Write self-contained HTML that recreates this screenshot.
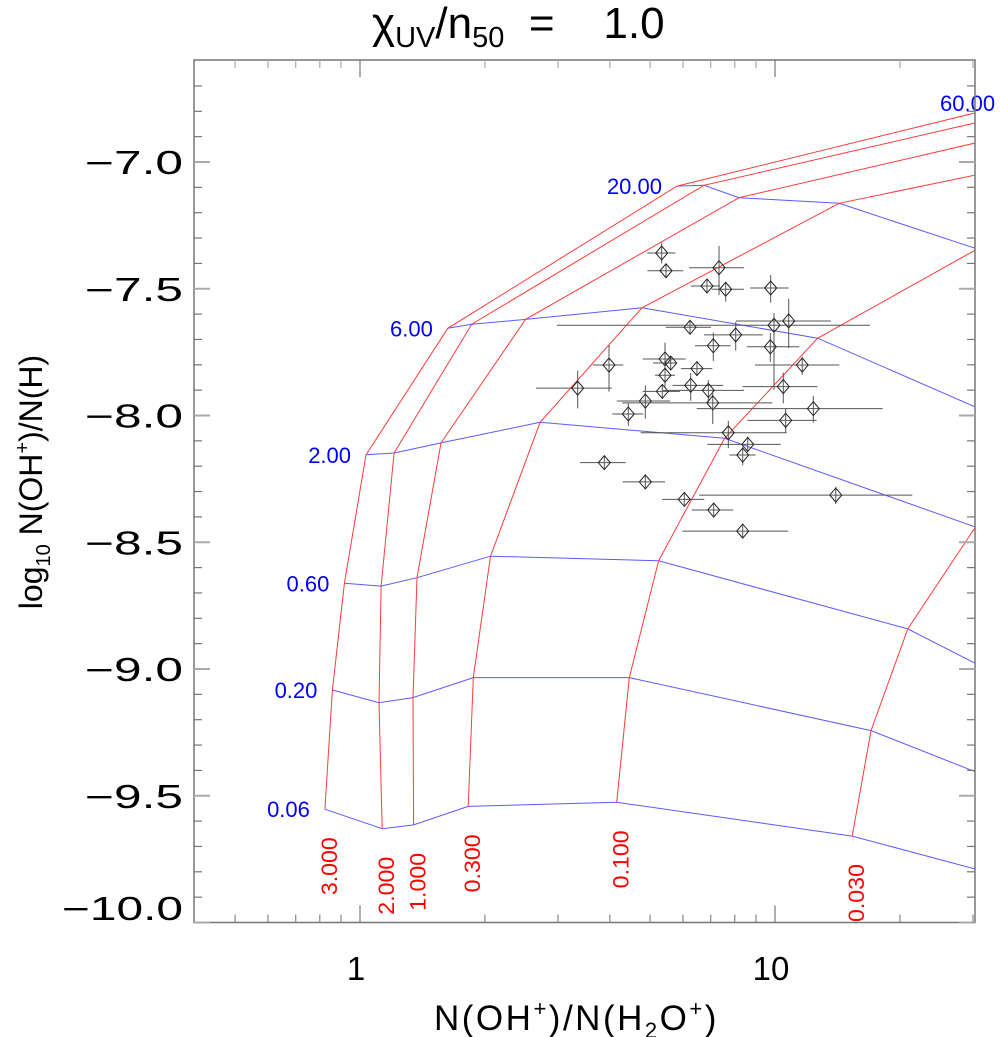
<!DOCTYPE html>
<html><head><meta charset="utf-8"><style>
html,body{margin:0;padding:0;background:#fff;}
svg{display:block;font-family:"Liberation Sans",sans-serif;}
.pre{white-space:pre;}
</style></head><body>
<svg id="chart" width="1001" height="1037" viewBox="0 0 1001 1037" xmlns="http://www.w3.org/2000/svg">
<defs><clipPath id="plotclip"><rect x="194" y="60" width="781" height="863"/></clipPath></defs>
<rect x="0" y="0" width="1001" height="1037" fill="#fff"/>
<text class="pre" x="372" y="38" font-size="44" fill="#000">χ<tspan font-size="29" dy="9">UV</tspan><tspan dy="-9">/n</tspan><tspan font-size="29" dy="9">50</tspan><tspan dy="-9">  =    1.0</tspan></text>
<g id="grid" clip-path="url(#plotclip)"></g>
<g id="points" clip-path="url(#plotclip)"></g>
<g id="labels"></g>
<g id="axes"></g>
<text x="434" y="1030" font-size="35" letter-spacing="2.5" fill="#000">N(OH<tspan font-size="22" dy="-14">+</tspan><tspan dy="14">)/N(H</tspan><tspan font-size="22" dy="8">2</tspan><tspan dy="-8">O</tspan><tspan font-size="22" dy="-14">+</tspan><tspan dy="14">)</tspan></text>
<text transform="translate(42,482) rotate(-90)" font-size="32" text-anchor="middle" fill="#000">log<tspan font-size="20" dy="8">10</tspan><tspan dy="-8"> N(OH</tspan><tspan font-size="20" dy="-13">+</tspan><tspan dy="13">)/N(H)</tspan></text>
</svg>
<script>
// model grid: rows = blue curves, columns = red curves
const rowVals = [0.06, 0.2, 0.6, 2, 6, 20, 60];
const rowLabels = ["0.06","0.20","0.60","2.00","6.00","20.00","60.00"];
const colVals = [3, 2, 1, 0.3, 0.1, 0.03, 0.01];
const colLabels = ["3.000","2.000","1.000","0.300","0.100","0.030",""];
const gridX = [
 [0.823,1.131,1.346,1.823,4.155,15.35,50],
 [0.858,1.111,1.342,1.875,4.456,17.03,50],
 [0.917,1.124,1.372,2.063,5.243,20.89,50],
 [1.034,1.208,1.567,2.716,7.56,30.4,50],
 [1.628,1.858,2.505,4.781,12.67,39.8,80],
 [5.806,6.745,8.19,14.27,30.7,45,80],
 [50,50,50,50,60,80,100]
];
const gridY = [
 [-9.553,-9.630,-9.615,-9.542,-9.526,-9.659,-9.884],
 [-9.083,-9.133,-9.113,-9.034,-9.034,-9.243,-9.545],
 [-8.662,-8.673,-8.640,-8.555,-8.573,-8.842,-9.159],
 [-8.155,-8.148,-8.108,-8.027,-8.090,-8.440,-8.563],
 [-7.656,-7.640,-7.621,-7.575,-7.695,-8.05,-8.3],
 [-7.095,-7.092,-7.141,-7.163,-7.343,-7.434,-7.6],
 [-6.719,-6.764,-6.843,-6.978,-7.2,-7.35,-7.5]
];
// observations
const obsX   = [5.333,5.462,7.330,6.857,7.606,9.763,6.240,9.945,10.79,8.041,7.101,9.743,3.981,5.432,5.607,6.486,11.63,3.346,5.432,6.265,5.350,6.908,10.47,4.870,7.079,12.37,4.431,10.61,7.718,8.596,8.360,3.879,4.870,6.045,14.01,7.117,8.360];
const obsXlo = [4.924,4.924,6.216,6.265,7.039,8.706,5.453,2.983,8.054,6.745,6.416,8.549,3.637,4.800,5.082,5.935,8.950,2.656,5.139,5.669,4.800,5.371,8.360,4.155,4.285,6.476,4.055,8.578,4.747,6.870,7.761,3.389,4.295,5.350,6.570,6.300,5.979];
const obsXhi = [5.751,6.012,8.420,7.370,8.420,10.79,7.012,16.94,13.64,9.342,7.820,11.44,4.310,6.093,5.797,7.063,14.29,4.041,5.741,7.494,5.903,8.420,12.65,5.585,9.851,18.18,4.817,12.60,10.67,10.32,8.985,4.368,5.432,6.755,21.42,7.933,10.76];
const obsY   = [-7.359,-7.429,-7.417,-7.489,-7.502,-7.497,-7.652,-7.644,-7.627,-7.682,-7.725,-7.729,-7.801,-7.777,-7.793,-7.815,-7.801,-7.892,-7.841,-7.881,-7.905,-7.901,-7.886,-7.943,-7.950,-7.973,-7.994,-8.019,-8.068,-8.114,-8.156,-8.186,-8.262,-8.331,-8.314,-8.373,-8.456];
const obsYlo = [-7.400,-7.437,-7.525,-7.497,-7.551,-7.555,-7.660,-7.899,-7.734,-7.744,-7.785,-7.788,-7.906,-7.843,-7.801,-7.823,-7.840,-7.972,-7.886,-7.942,-7.935,-7.951,-7.952,-8.013,-8.034,-8.028,-8.041,-8.068,-8.129,-8.144,-8.196,-8.194,-8.270,-8.339,-8.349,-8.381,-8.464];
const obsYhi = [-7.318,-7.421,-7.331,-7.481,-7.485,-7.446,-7.644,-7.596,-7.540,-7.630,-7.673,-7.675,-7.722,-7.713,-7.785,-7.807,-7.768,-7.823,-7.801,-7.832,-7.880,-7.860,-7.831,-7.881,-7.899,-7.922,-7.951,-7.974,-8.021,-8.085,-8.123,-8.178,-8.254,-8.323,-8.281,-8.365,-8.448];
const yTicks = [-7.0,-7.5,-8.0,-8.5,-9.0,-9.5,-10.0];
const yTickLabels = ["\u22127.0","\u22127.5","\u22128.0","\u22128.5","\u22129.0","\u22129.5","\u221210.0"];
const xTicks = [1, 10];
const xTickLabels = ["1","10"];

const NS = "http://www.w3.org/2000/svg";
const X0 = 194, X1 = 975, Y0 = 60, Y1 = 922.5;
function xS(v){ return 360 + 415 * Math.log10(v); }
function yS(v){ return 162 + 253.5 * (-7 - v); }
function mk(tag, attrs, parent){
  const e = document.createElementNS(NS, tag);
  for (const k in attrs) e.setAttribute(k, attrs[k]);
  parent.appendChild(e);
  return e;
}
const grid = document.getElementById('grid');
const pts = document.getElementById('points');
const labs = document.getElementById('labels');
const axes = document.getElementById('axes');

for (let i = 0; i < rowVals.length; i++) {
  const d = gridX[i].map((x, j) => (j ? 'L' : 'M') + xS(x).toFixed(1) + ' ' + yS(gridY[i][j]).toFixed(1)).join(' ');
  const p = mk('path', {d: d, fill: 'none', stroke: '#5a5aff', 'stroke-width': 1}, grid);
  
  
}
for (let j = 0; j < colVals.length; j++) {
  const d = rowVals.map((r, i) => (i ? 'L' : 'M') + xS(gridX[i][j]).toFixed(1) + ' ' + yS(gridY[i][j]).toFixed(1)).join(' ');
  const p = mk('path', {d: d, fill: 'none', stroke: '#ff3b3b', 'stroke-width': 1}, grid);
  
  
}
for (let i = 0; i < rowVals.length; i++) {
  let tx = xS(gridX[i][0]) - 15, ty = yS(gridY[i][0]) + 8, anchor = 'end';
  if (xS(gridX[i][0]) > X1) { tx = 940; ty = 111; anchor = 'start'; }
  const t = mk('text', {x: tx, y: ty, 'font-size': 22, fill: '#0000ff', 'text-anchor': anchor}, labs);
  t.textContent = rowLabels[i];
  
  
}
for (let j = 0; j < colVals.length; j++) {
  if (!colLabels[j]) continue;
  const nx = xS(gridX[0][j]) + 5, ny = yS(gridY[0][j]) + 28;
  const t = mk('text', {x: 0, y: 0, 'font-size': 22, fill: '#ff0000', 'text-anchor': 'end', transform: 'translate(' + (nx + 7) + ',' + ny + ') rotate(-90)', textLength: 58, lengthAdjust: 'spacingAndGlyphs'}, labs);
  t.textContent = colLabels[j];
  
  
}
for (let k = 0; k < obsX.length; k++) {
  const g = mk('g', {}, pts);
  
  
  const cx = xS(obsX[k]), cy = yS(obsY[k]);
  mk('line', {x1: xS(obsXlo[k]), x2: xS(obsXhi[k]), y1: cy, y2: cy, stroke: '#555', 'stroke-width': 1}, g);
  mk('line', {x1: cx, x2: cx, y1: Math.min(yS(obsYhi[k]), cy - 7), y2: Math.max(yS(obsYlo[k]), cy + 7), stroke: '#555', 'stroke-width': 1}, g);
  mk('path', {d: 'M' + (cx - 6) + ' ' + cy + 'L' + cx + ' ' + (cy - 7) + 'L' + (cx + 6) + ' ' + cy + 'L' + cx + ' ' + (cy + 7) + 'Z', fill: 'none', stroke: '#222', 'stroke-width': 1}, g);
}
const fr = mk('rect', {x: X0, y: Y0, width: X1 - X0, height: Y1 - Y0, fill: 'none', stroke: '#777', 'stroke-width': 1.5}, axes);


for (let v = -10; v <= -6.6 + 1e-9; v += 0.1) {
  const y = yS(v);
  if (y < Y0 + 1) continue;
  const major = Math.abs(v * 2 - Math.round(v * 2)) < 1e-6;
  const L = major ? 16 : 8;
  mk('line', {x1: X0, x2: X0 + L, y1: y, y2: y, stroke: major ? '#aaa' : '#777', 'stroke-width': major ? 2 : 1.2}, axes);
  mk('line', {x1: X1 - L, x2: X1, y1: y, y2: y, stroke: major ? '#aaa' : '#777', 'stroke-width': major ? 2 : 1.2}, axes);
}
for (let i = 0; i < yTicks.length; i++) {
  let y = yS(yTicks[i]) + 12;
  if (yTicks[i] <= -10) y = 920;
  const s = yTickLabels[i];
  const t = mk('text', {x: 183, y: y, 'font-size': 33, 'text-anchor': 'end', fill: '#000', textLength: 23 * s.length + 6, lengthAdjust: 'spacingAndGlyphs'}, axes);
  t.textContent = s;
  
  
}
const decs = [0.1, 1, 10];
for (const d of decs) for (let m = 1; m <= 9; m++) {
  const v = d * m;
  const x = xS(v);
  if (x < X0 + 1 || x > X1 - 1) continue;
  const major = m === 1;
  const L = major ? 17 : 8;
  mk('line', {x1: x, x2: x, y1: Y1, y2: Y1 - L, stroke: major ? '#777' : '#888', 'stroke-width': 1.2}, axes);
  mk('line', {x1: x, x2: x, y1: Y0, y2: Y0 + L, stroke: major ? '#777' : '#aaa', 'stroke-width': 1.2}, axes);
}
for (let i = 0; i < xTicks.length; i++) {
  const t = mk('text', {x: xS(xTicks[i]) - 4, y: 980, 'font-size': 33, 'text-anchor': 'middle', fill: '#000'}, axes);
  t.textContent = xTickLabels[i];
  
  
}
</script>
</body></html>
